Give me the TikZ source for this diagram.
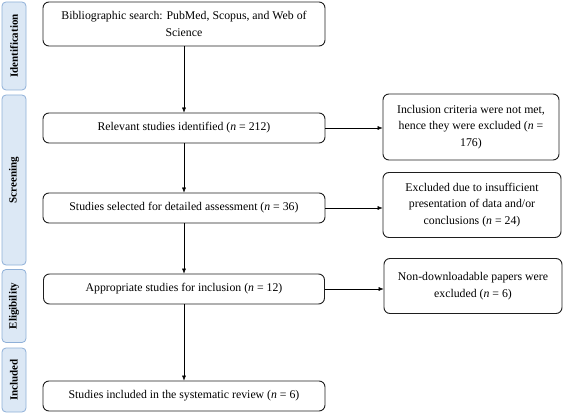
\documentclass[tikz,border=0pt]{standalone}
\usepackage{fontspec}
\setmainfont{Liberation Serif}
\usepackage{xcolor}
\usetikzlibrary{arrows.meta,positioning}
\definecolor{phasefill}{RGB}{220,232,245}
\definecolor{phaseline}{RGB}{143,176,216}
\definecolor{boxline}{RGB}{30,30,30}

\tikzset{
  flowbox/.style={draw=boxline,line width=0.9pt,rounded corners=6pt,align=center,inner sep=2pt},
  phase/.style={draw=phaseline,fill=phasefill,line width=0.8pt,rounded corners=4pt,rotate=90,
    font=\bfseries\fontsize{11}{13}\selectfont,inner sep=0pt,minimum height=24pt},
}

\begin{document}
\begin{tikzpicture}[x=1pt,y=-1pt,font=\fontsize{11.8}{16.5}\selectfont,>={Latex[length=5pt,width=4pt]}]
\useasboundingbox (0,0) rectangle (565,414);
% phases on the left
\node[phase,minimum width=88pt] (ident) at (14,46) {Identification};
\node[phase,minimum width=170pt] (screen) at (14,180) {Screening};
\node[phase,minimum width=73pt] (elig) at (14,306) {Eligibility};
\node[phase,minimum width=64pt] (incl) at (14,380) {Included};
% main column
\node[flowbox,minimum width=282pt,minimum height=44pt] (search) at (184,24)
  {Bibliographic search: PubMed, Scopus, and Web of\\Science};
\node[flowbox,minimum width=282pt,minimum height=30pt] (relevant) at (184,128)
  {Relevant studies identified (\textit{n} = 212)};
\node[flowbox,minimum width=282pt,minimum height=30pt] (selected) at (184,208)
  {Studies selected for detailed assessment (\textit{n} = 36)};
\node[flowbox,minimum width=281pt,minimum height=30pt] (approp) at (184,289)
  {Appropriate studies for inclusion (\textit{n} = 12)};
\node[flowbox,minimum width=282pt,minimum height=30pt] (review) at (184,396)
  {Studies included in the systematic review (\textit{n} = 6)};
% excluded boxes
\node[flowbox,minimum width=176pt,minimum height=66pt] (exclA) at (471,127)
  {Inclusion criteria were not met,\\hence they were excluded (\textit{n} =\\176)};
\node[flowbox,minimum width=178pt,minimum height=65pt] (exclB) at (472,205)
  {Excluded due to insufficient\\presentation of data and/or\\conclusions (\textit{n} = 24)};
\node[flowbox,minimum width=178pt,minimum height=55pt] (exclC) at (473,286)
  {Non-downloadable papers were\\excluded (\textit{n} = 6)};
% arrows
\draw[->] (search) -- (relevant);
\draw[->] (relevant) -- (selected);
\draw[->] (selected) -- (approp);
\draw[->] (approp) -- (review);
\draw[->] (relevant.east) -- (relevant.east -| exclA.west);
\draw[->] (selected.east) -- (selected.east -| exclB.west);
\draw[->] (approp.east) -- (approp.east -| exclC.west);
\end{tikzpicture}
\end{document}
